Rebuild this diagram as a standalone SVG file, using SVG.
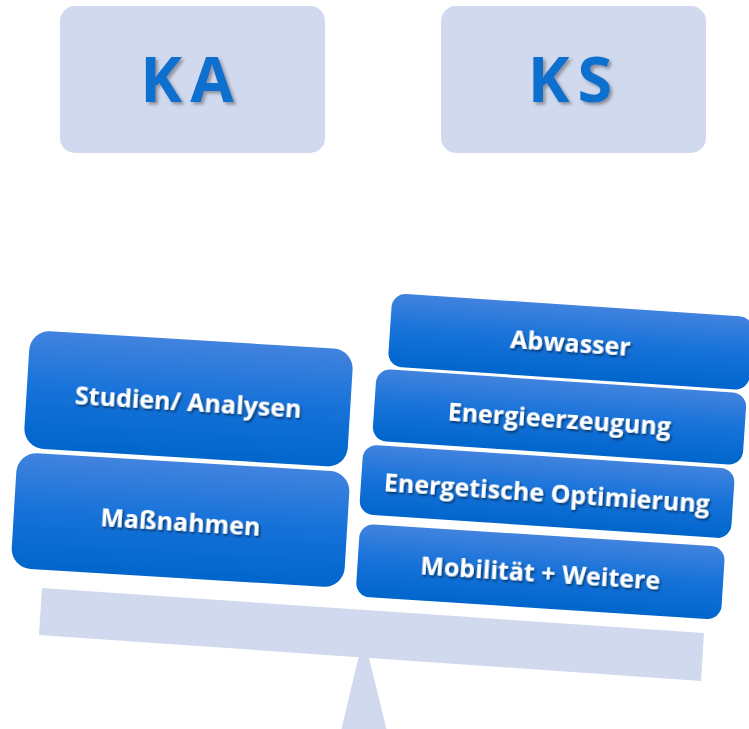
<svg xmlns="http://www.w3.org/2000/svg" width="749" height="729" viewBox="0 0 749 729">
  <defs>
    <linearGradient id="blueFill" x1="0" y1="0" x2="0" y2="1">
      <stop offset="0" stop-color="#4283de"/>
      <stop offset="0.5" stop-color="#1672d9"/>
      <stop offset="1" stop-color="#0066cc"/>
    </linearGradient>
    <filter id="textShadow" x="-10%" y="-30%" width="120%" height="160%">
      <feDropShadow dx="1.5" dy="1.8" stdDeviation="1" flood-color="#000" flood-opacity="0.55"/>
    </filter>
    <filter id="titleShadow" x="-10%" y="-20%" width="130%" height="150%">
      <feDropShadow dx="2.5" dy="2.5" stdDeviation="1.5" flood-color="#555" flood-opacity="0.55"/>
    </filter>
  </defs>
  <style>
    .header { fill: #d0d9ee; }
    .title { font-family: "Open Sans", "Liberation Sans", sans-serif; font-weight: 700; font-size: 63px; fill: #0a6fcf; letter-spacing: 8px; text-anchor: middle; filter: url(#titleShadow); }
    .block { fill: url(#blueFill); }
    .label { font-family: "Open Sans", "Liberation Sans", sans-serif; font-weight: 700; font-size: 25px; fill: #ffffff; text-anchor: middle; dominant-baseline: central; filter: url(#textShadow); }
    .scale { fill: #d0d9ee; }
  </style>

  <!-- headers -->
  <g id="ka">
    <rect class="header" x="60" y="6" width="265" height="147" rx="15"/>
    <text class="title" x="191" y="102">KA</text>
  </g>
  <g id="ks">
    <rect class="header" x="441" y="6" width="265" height="147" rx="15"/>
    <text class="title" x="574" y="102">KS</text>
  </g>

  <!-- balance: fulcrum and beam -->
  <g id="balance">
    <polygon class="scale" points="363.5,636 386.5,729 341.5,729"/>
    <polygon class="scale" points="42,588 704,633 701,681 39,635"/>
  </g>

  <!-- left pan -->
  <g id="studien" transform="rotate(3.5 188.5 398.8)">
    <rect class="block" x="26.5" y="339.8" width="324" height="118" rx="20"/>
    <text class="label" x="188.5" y="401">Studien/ Analysen</text>
  </g>
  <g id="massnahmen" transform="rotate(3.45 180.5 520)">
    <rect class="block" x="13.7" y="462" width="333.6" height="116" rx="20"/>
    <text class="label" x="180.5" y="521">Maßnahmen</text>
  </g>

  <!-- right pan -->
  <g id="abwasser" transform="rotate(3.8 570.6 341.7)">
    <rect class="block" x="389.6" y="305" width="362" height="73.5" rx="14"/>
    <text class="label" x="570.6" y="342">Abwasser</text>
  </g>
  <g id="energieerzeugung" transform="rotate(3.85 559.5 417)">
    <rect class="block" x="374" y="381" width="371" height="72" rx="14"/>
    <text class="label" x="559.5" y="418">Energieerzeugung</text>
  </g>
  <g id="optimierung" transform="rotate(3.8 547 491.5)">
    <rect class="block" x="360.8" y="456.5" width="372.5" height="70" rx="14"/>
    <text class="label" x="547" y="492">Energetische Optimierung</text>
  </g>
  <g id="mobilitaet" transform="rotate(3.65 540.4 571.7)">
    <rect class="block" x="357.4" y="535.2" width="366" height="73" rx="14"/>
    <text class="label" x="540.4" y="572">Mobilität + Weitere</text>
  </g>
</svg>
